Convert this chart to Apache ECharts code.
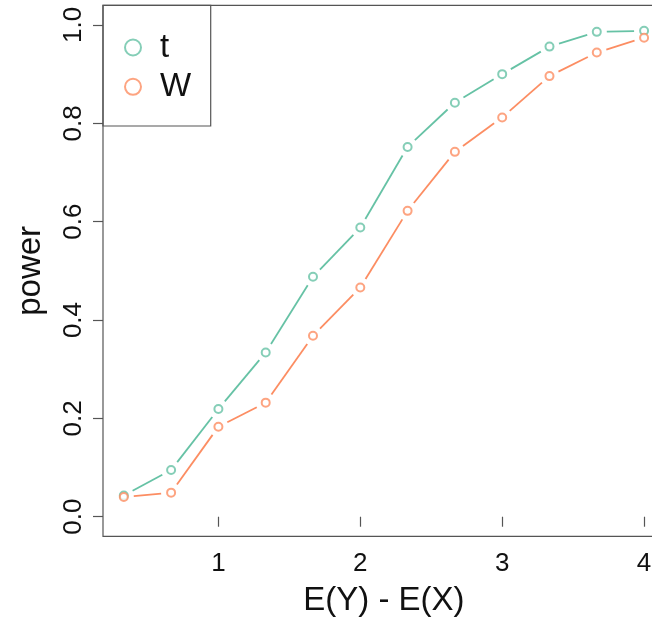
<!DOCTYPE html>
<html>
<head>
<meta charset="utf-8">
<script src="https://cdn.jsdelivr.net/npm/echarts@6/dist/echarts.min.js"></script>
<style>
html,body{margin:0;padding:0;background:#fff;}
#chart{width:652px;height:627px;}
</style>
</head>
<body>
<div id="chart"></div>
<script>
// ---- data ----
const effectSizes = [1/3, 2/3, 1, 4/3, 5/3, 2, 7/3, 8/3, 3, 10/3, 11/3, 4];
const tPower = [0.043, 0.095, 0.219, 0.334, 0.488, 0.588, 0.752, 0.842, 0.900, 0.956, 0.986, 0.988];
const wPower = [0.040, 0.049, 0.183, 0.232, 0.368, 0.466, 0.622, 0.742, 0.812, 0.896, 0.944, 0.974];
const xTicks = [1, 2, 3, 4];
const yTicks = [0, 0.2, 0.4, 0.6, 0.8, 1.0];
const seriesNames = ['t', 'W'];

// ---- styles ----
const COLORS = ['#66C2A5', '#FC8D62'];
const FONT = '"Liberation Sans", Arial, Helvetica, sans-serif';
const GAP = 10;

function pts(ys) { return effectSizes.map((x, i) => [x, ys[i]]); }
function segs(ys) {
  const out = [];
  for (let i = 0; i < effectSizes.length - 1; i++) {
    out.push([effectSizes[i], ys[i], effectSizes[i + 1], ys[i + 1]]);
  }
  return out;
}
function segRender(color) {
  return function (params, api) {
    const a = api.coord([api.value(0), api.value(1)]);
    const b = api.coord([api.value(2), api.value(3)]);
    const dx = b[0] - a[0], dy = b[1] - a[1];
    const L = Math.hypot(dx, dy);
    if (L <= 2 * GAP) return null;
    const ux = dx / L, uy = dy / L;
    return {
      type: 'line',
      shape: { x1: a[0] + ux * GAP, y1: a[1] + uy * GAP, x2: b[0] - ux * GAP, y2: b[1] - uy * GAP },
      style: { stroke: color, lineWidth: 1.8 }
    };
  };
}

const chart = echarts.init(document.getElementById('chart'), null, { renderer: 'canvas' });
const data = [tPower, wPower];
const series = [];
data.forEach((ys, k) => {
  series.push({
    name: seriesNames[k] + '_line',
    type: 'custom',
    renderItem: segRender(COLORS[k]),
    data: segs(ys),
    encode: { x: [0, 2], y: [1, 3] },
    silent: true,
    z: 2
  });
});
data.forEach((ys, k) => {
  series.push({
    name: seriesNames[k],
    type: 'scatter',
    symbol: 'emptyCircle',
    symbolSize: 8,
    data: pts(ys),
    itemStyle: { color: COLORS[k], borderColor: COLORS[k], borderWidth: 1.8 },
    z: 3
  });
});

chart.setOption({
  backgroundColor: '#fff',
  animation: false,
  color: COLORS,
  grid: {
    left: 103, top: 5.3, width: 561.9, height: 531.1,
    show: true, borderColor: '#555', borderWidth: 1.2, backgroundColor: 'transparent',
    containLabel: false, outerBoundsMode: 'none'
  },
  xAxis: {
    type: 'value',
    min: 0.1867, max: 4.1467,
    splitLine: { show: false },
    axisLine: { show: false },
    axisTick: { show: true, length: 10, inside: false, customValues: xTicks, lineStyle: { color: '#555', width: 1.2 } },
    axisLabel: { customValues: xTicks, fontSize: 26, fontFamily: FONT, color: '#111', margin: 14,
      formatter: v => String(v) },
    name: 'E(Y) - E(X)',
    nameLocation: 'middle',
    nameGap: 48,
    nameTextStyle: { fontSize: 33, fontFamily: FONT, color: '#111' }
  },
  yAxis: {
    type: 'value',
    min: -0.04, max: 1.04,
    splitLine: { show: false },
    axisLine: { show: false },
    axisTick: { show: true, length: 10, inside: false, customValues: yTicks, lineStyle: { color: '#555', width: 1.2 } },
    axisLabel: { customValues: yTicks, rotate: 90, fontSize: 26, fontFamily: FONT, color: '#111', margin: 16,
      formatter: v => v.toFixed(1) },
    name: 'power',
    nameLocation: 'middle',
    nameGap: 56,
    nameTextStyle: { fontSize: 33, fontFamily: FONT, color: '#111' }
  },
  legend: {
    data: seriesNames.map(n => ({ name: n, icon: 'emptyCircle' })),
    orient: 'vertical',
    left: 124, top: 31,
    padding: 0,
    itemWidth: 44, itemHeight: 16,
    itemGap: 6.3,
    symbolKeepAspect: true,
    selectedMode: false,
    textStyle: { fontSize: 33, lineHeight: 33, fontFamily: FONT, color: '#111' }
  },
  graphic: [{
    type: 'rect',
    shape: { x: 103, y: 5.3, width: 107.7, height: 120.7 },
    style: { fill: 'transparent', stroke: '#555', lineWidth: 1.2 },
    z: 10, silent: true
  }],
  series: series
});
</script>
</body>
</html>
